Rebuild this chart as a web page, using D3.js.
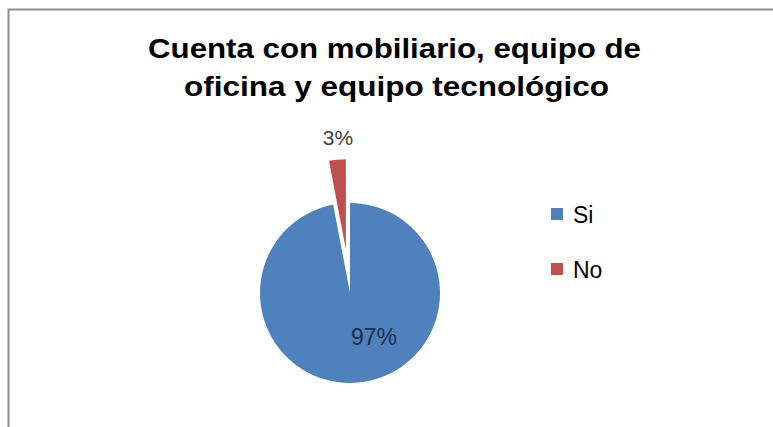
<!DOCTYPE html>
<html>
<head>
<meta charset="utf-8">
<script src="https://cdn.jsdelivr.net/npm/d3@7"></script>
<style>
  html, body { margin: 0; padding: 0; background: #fff; }
  svg { display: block; }
</style>
</head>
<body>
<div id="chart"></div>
<script>
// --- data ---
const categories = ["Si", "No"];
const values = [97, 3];
const labels = ["97%", "3%"];
const colors = ["#4F81BD", "#C0504D"];
const titleLines = ["Cuenta con mobiliario, equipo de", "oficina y equipo tecnológico"];

const W = 773, H = 427;
const svg = d3.select("#chart").append("svg")
  .attr("width", W).attr("height", H);

// chart area border (only top & left visible in the crop)
svg.append("rect")
  .attr("x", 8.5).attr("y", 9.5)
  .attr("width", W + 20).attr("height", H + 20)
  .attr("fill", "#fff")
  .attr("stroke", "#8c8c8c")
  .attr("stroke-width", 2);

// --- title (stretched a bit wider, like the original) ---
const titleSpec = [
  { x: 394.5, y: 58, w: 493 },
  { x: 396.5, y: 96, w: 425 }
];
svg.append("g").selectAll("text")
  .data(titleLines)
  .enter().append("text")
  .attr("x", (d, i) => titleSpec[i].x)
  .attr("y", (d, i) => titleSpec[i].y)
  .attr("text-anchor", "middle")
  .attr("textLength", (d, i) => titleSpec[i].w)
  .attr("lengthAdjust", "spacingAndGlyphs")
  .style("font-family", "'Liberation Sans', Arial, sans-serif")
  .style("font-weight", "bold")
  .style("font-size", "27px")
  .attr("fill", "#000")
  .text(d => d);

// --- pie ---
const cx = 350, cy = 293, r = 90, explode = 44;
const data = categories.map((c, i) => ({ cat: c, value: values[i], label: labels[i], color: colors[i] }));

// Excel draws clockwise from 12 o'clock
const pie = d3.pie().sort(null).value(d => d.value);
const arcs = pie(data);
const arc = d3.arc().innerRadius(0).outerRadius(r);

const g = svg.append("g").attr("transform", `translate(${cx},${cy})`);

function offset(d) {
  if (d.data.cat !== "No") return [0, 0];
  const a = (d.startAngle + d.endAngle) / 2;
  return [Math.sin(a) * explode, -Math.cos(a) * explode];
}

g.selectAll("path")
  .data(arcs)
  .enter().append("path")
  .attr("d", arc)
  .attr("transform", d => `translate(${offset(d)})`)
  .attr("fill", d => d.data.color);

// data labels
const labelPos = { "Si": [24, 52, 23], "No": [-12, -148, 21] };
g.selectAll(".lbl")
  .data(arcs)
  .enter().append("text")
  .attr("class", "lbl")
  .attr("x", d => labelPos[d.data.cat][0])
  .attr("y", d => labelPos[d.data.cat][1])
  .attr("text-anchor", "middle")
  .style("font-family", "'Liberation Sans', Arial, sans-serif")
  .style("font-size", d => labelPos[d.data.cat][2] + "px")
  .attr("fill", d => d.data.cat === "Si" ? "#1c2e4a" : "#404040")
  .text(d => d.data.label);

// --- legend ---
const legend = svg.append("g").attr("transform", "translate(551,208)");
const item = legend.selectAll("g")
  .data(data)
  .enter().append("g")
  .attr("transform", (d, i) => `translate(0,${i * 55})`);

item.append("rect")
  .attr("width", 12).attr("height", 12)
  .attr("fill", d => d.color);

item.append("text")
  .attr("x", 22).attr("y", 15)
  .style("font-family", "'Liberation Sans', Arial, sans-serif")
  .style("font-size", "23px")
  .attr("fill", "#000")
  .text(d => d.cat);
</script>
</body>
</html>
